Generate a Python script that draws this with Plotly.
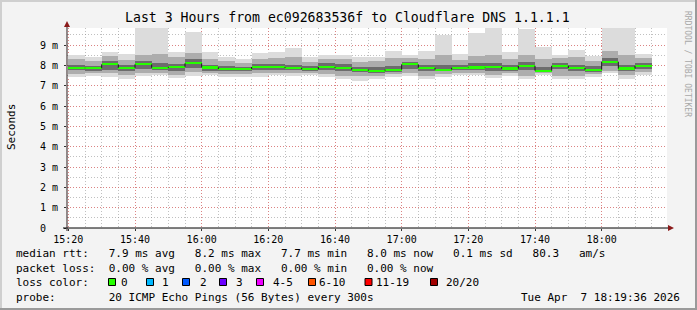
import pandas as pd
import plotly.graph_objects as go

# ---------------- data (ms) ----------------
start = "2026-04-07 15:20:00"
n_bars = 35
ping_min = [7.44, 7.48, 7.41, 7.34, 7.48, 7.53, 7.36, 7.48, 7.53, 7.41, 7.44, 7.44, 7.53, 7.48, 7.53, 7.41, 7.31, 7.25,
            7.33, 7.44, 7.48, 7.31, 7.41, 7.53, 7.53, 7.36, 7.48, 7.31, 7.53, 7.31, 7.31, 7.41, 7.61, 7.31, 7.53]
ping_q10 = [7.58, 7.60, 7.60, 7.52, 7.62, 7.64, 7.52, 7.66, 7.62, 7.56, 7.58, 7.60, 7.64, 7.62, 7.62, 7.58, 7.50, 7.46,
            7.48, 7.56, 7.62, 7.50, 7.56, 7.62, 7.64, 7.52, 7.60, 7.50, 7.62, 7.50, 7.48, 7.56, 7.74, 7.52, 7.66]
ping_q30 = [7.76, 7.74, 7.76, 7.74, 7.80, 7.76, 7.74, 7.86, 7.72, 7.70, 7.70, 7.76, 7.78, 7.76, 7.72, 7.76, 7.70, 7.66,
            7.62, 7.68, 7.82, 7.72, 7.70, 7.76, 7.78, 7.74, 7.72, 7.76, 7.68, 7.80, 7.70, 7.68, 7.96, 7.72, 7.84]
median = [7.88, 7.86, 8.05, 7.88, 8.05, 7.88, 7.93, 8.10, 7.90, 7.82, 7.82, 7.92, 7.92, 7.88, 7.81, 7.92, 7.88, 7.79,
          7.74, 7.79, 8.05, 7.88, 7.79, 7.88, 7.90, 7.92, 7.84, 7.98, 7.74, 7.98, 7.87, 7.79, 8.18, 7.84, 7.98]
ping_q70 = [8.02, 7.98, 8.20, 8.00, 8.22, 8.10, 8.06, 8.30, 8.04, 7.98, 7.94, 8.06, 8.08, 8.04, 7.96, 8.10, 8.06, 7.94,
            7.92, 7.98, 8.18, 8.02, 8.00, 8.02, 8.10, 8.12, 8.00, 8.16, 7.92, 8.14, 8.04, 7.96, 8.36, 8.02, 8.12]
ping_q90 = [8.30, 8.22, 8.44, 8.28, 8.50, 8.55, 8.40, 8.62, 8.30, 8.20, 8.12, 8.32, 8.36, 8.40, 8.18, 8.32, 8.30, 8.18,
            8.20, 8.36, 8.36, 8.30, 8.50, 8.28, 8.48, 8.50, 8.30, 8.52, 8.30, 8.36, 8.40, 8.22, 8.72, 8.50, 8.36]
ping_max = [8.51, 8.40, 8.67, 8.56, 10.6, 11.2, 8.66, 9.64, 8.66, 8.39, 8.31, 8.59, 8.66, 8.87, 8.39, 8.51, 8.51, 8.39,
            8.43, 8.71, 8.53, 8.71, 9.49, 8.56, 9.57, 10.4, 8.67, 9.79, 8.92, 8.51, 8.76, 8.46, 10.8, 10.3, 8.54]

x_ticks = ["15:20", "15:40", "16:00", "16:20", "16:40", "17:00", "17:20", "17:40", "18:00"]
y_ticks = [0, 1, 2, 3, 4, 5, 6, 7, 8, 9]
y_ticktext = ["0\u00a0\u00a0", "1 m", "2 m", "3 m", "4 m", "5 m", "6 m", "7 m", "8 m", "9 m"]

title = "Last 3 Hours from ec092683536f to Cloudflare DNS 1.1.1.1"
row_rtt = "median rtt:   7.9 ms avg   8.2 ms max   7.7 ms min   8.0 ms now   0.1 ms sd   80.3   am/s"
row_loss = "packet loss:  0.00 % avg   0.00 % max   0.00 % min   0.00 % now"
row_probe = "probe:        20 ICMP Echo Pings (56 Bytes) every 300s"
stamp = "Tue Apr  7 18:19:36 2026"
loss_labels = ["0", "1", "2", "3", "4-5", "6-10", "11-19", "20/20"]
loss_colors = ["#26ff00", "#00b8ff", "#0059ff", "#6a00ff", "#ee00ff", "#ff5500", "#ff0000", "#a10000"]

# ---------------- geometry helpers (pixels -> paper) ----------------
W, H = 697, 310
L, R, T, B = 67, 667, 28, 228
def px(x):
    return (x - L) / (R - L)
def py(y):
    return (B - y) / (B - T)

bar_start = pd.date_range(start, periods=n_bars, freq="5min")
centers = bar_start + pd.Timedelta(seconds=150)
bw = 300000
MONO = "DejaVu Sans Mono"

fig = go.Figure()

def band(lo, hi, color):
    fig.add_trace(go.Bar(x=centers, y=[h - l for l, h in zip(lo, hi)], base=lo, width=bw,
                         marker=dict(color=color, line=dict(width=0)), hoverinfo="skip",
                         showlegend=False))

band(ping_min, ping_max, "#dcdcdc")
band(ping_q10, ping_q90, "#adadad")
band(ping_q30, ping_q70, "#6c6c6c")
# median (loss colour band)
fig.add_trace(go.Bar(x=centers, y=[0.11] * n_bars, base=[m - 0.055 for m in median], width=bw,
                     marker=dict(color=loss_colors[0], line=dict(width=0)), hoverinfo="skip",
                     showlegend=False))
# vertical connectors of median steps
cx, cy = [], []
for i in range(n_bars - 1):
    t = bar_start[i + 1]
    cx += [t, t, None]
    cy += [median[i], median[i + 1], None]
fig.add_trace(go.Scatter(x=cx, y=cy, mode="lines", line=dict(color="#1a1a1a", width=1),
                         hoverinfo="skip", showlegend=False))

major_grid = "rgba(240,80,80,0.55)"
minor_grid = "rgba(140,140,140,0.55)"
dash = "1px,2px"

fig.update_layout(
    width=W, height=H,
    margin=dict(l=L, r=W - R, t=T, b=H - B, pad=0),
    paper_bgcolor="#f3f3f3", plot_bgcolor="#ffffff",
    barmode="overlay", bargap=0,
    showlegend=False,
    font=dict(family=MONO, size=10, color="#000000"),
    xaxis=dict(
        type="date",
        range=["2026-04-07 15:19:36", "2026-04-07 18:19:36"],
        tickvals=["2026-04-07 " + t + ":00" for t in x_ticks],
        ticktext=x_ticks,
        showgrid=True, gridcolor=major_grid, griddash=dash, gridwidth=1,
        minor=dict(dtick=300000, tick0=start, showgrid=True, gridcolor=minor_grid, griddash=dash,
                   gridwidth=1),
        ticks="outside", ticklen=2, tickcolor="#333333",
        showline=False, zeroline=False, fixedrange=True,
        tickfont=dict(family=MONO, size=10, color="#000000"),
    ),
    yaxis=dict(
        range=[0, (B - T) / 20.33],
        tickvals=y_ticks, ticktext=y_ticktext,
        showgrid=True, gridcolor=major_grid, griddash=dash, gridwidth=1,
        minor=dict(dtick=0.5, tick0=0, showgrid=True, gridcolor=minor_grid, griddash=dash, gridwidth=1),
        ticks="outside", ticklen=2, tickcolor="#333333",
        showline=False, zeroline=False, fixedrange=True,
        tickfont=dict(family=MONO, size=10, color="#000000"),
        ticklabelstandoff=4,
    ),
)

shapes = []
# canvas frame
shapes.append(dict(type="rect", xref="paper", yref="paper", x0=px(0), x1=px(W), y0=py(0), y1=py(2),
                   fillcolor="#cfcfcf", line=dict(width=0), layer="below"))
shapes.append(dict(type="rect", xref="paper", yref="paper", x0=px(0), x1=px(2), y0=py(0), y1=py(H),
                   fillcolor="#cfcfcf", line=dict(width=0), layer="below"))
shapes.append(dict(type="rect", xref="paper", yref="paper", x0=px(W - 2), x1=px(W), y0=py(0), y1=py(H),
                   fillcolor="#9a9a9a", line=dict(width=0), layer="below"))
shapes.append(dict(type="rect", xref="paper", yref="paper", x0=px(0), x1=px(W), y0=py(H - 2), y1=py(H),
                   fillcolor="#9a9a9a", line=dict(width=0), layer="below"))
# axes
shapes.append(dict(type="line", xref="paper", yref="paper", x0=px(63), x1=px(669), y0=py(228), y1=py(228),
                   line=dict(color="#000000", width=1)))
shapes.append(dict(type="line", xref="paper", yref="paper", x0=px(67), x1=px(67), y0=py(231), y1=py(24),
                   line=dict(color="#2a1a1a", width=1)))
# arrows
shapes.append(dict(type="path", xref="paper", yref="paper",
                   path=f"M {px(64)} {py(27)} L {px(70)} {py(27)} L {px(67)} {py(21)} Z",
                   fillcolor="#8b1a1a", line=dict(width=0)))
shapes.append(dict(type="path", xref="paper", yref="paper",
                   path=f"M {px(668)} {py(225)} L {px(668)} {py(231)} L {px(674)} {py(228)} Z",
                   fillcolor="#8b1a1a", line=dict(width=0)))
# loss colour squares
sq_x = [108.5, 146.5, 182.5, 219.5, 256.5, 308.5, 365, 430.5]
for xs, col in zip(sq_x, loss_colors):
    shapes.append(dict(type="rect", xref="paper", yref="paper", x0=px(xs), x1=px(xs + 7),
                       y0=py(285.5), y1=py(278.5), fillcolor=col, line=dict(color="#000000", width=1)))
fig.update_layout(shapes=shapes)

def note(text, x, y, size=11, xanchor="left", color="#000000", angle=0, family=MONO):
    fig.add_annotation(text=text.replace(" ", "\u00a0"), x=px(x), y=py(y), xref="paper", yref="paper",
                       xanchor=xanchor, yanchor="middle", showarrow=False, borderpad=0,
                       textangle=angle, font=dict(family=family, size=size, color=color))

note(title, 347, 18, size=13.2, xanchor="center")
note(row_rtt, 14.5, 254)
note(row_loss, 14.5, 268)
note("loss color:", 14.5, 282)
lab_x = [119.5, 160.5, 198.5, 235, 272, 318, 375, 445]
for lx, lt in zip(lab_x, loss_labels):
    note(lt, lx, 282)
note(row_probe, 14.5, 297)
note(stamp, 681, 297, xanchor="right")
note("Seconds", 11, 127, size=11, xanchor="center", angle=-90)
note("RRDTOOL / TOBI OETIKER", 688, 64, size=8, xanchor="center", color="#a8a8a8", angle=90)

fig.write_html("out.html")
